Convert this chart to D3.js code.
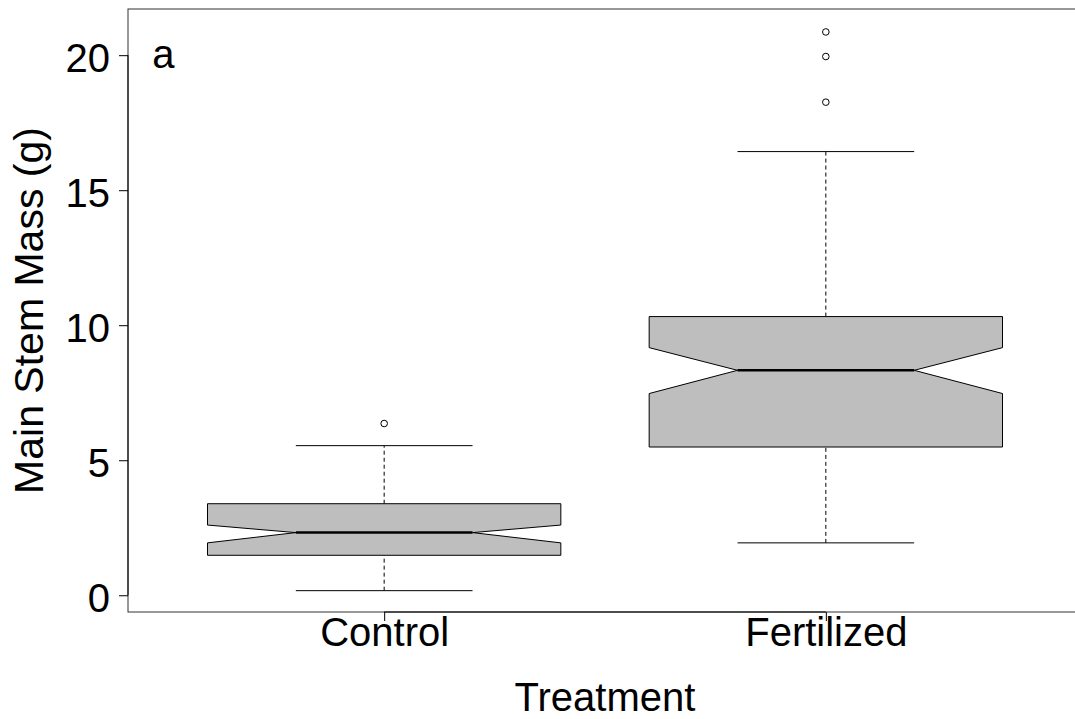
<!DOCTYPE html>
<html>
<head>
<meta charset="utf-8">
<script src="https://cdn.jsdelivr.net/npm/d3@7"></script>
<style>
  html, body { margin: 0; padding: 0; background: #fff; }
  svg { display: block; font-family: "Liberation Sans", Arial, sans-serif; }
</style>
</head>
<body>
<svg id="chart" width="1075" height="719"></svg>
<script>
const categories = ["Control", "Fertilized"];
const lowerWhisker = [0.17, 1.94];
const q1 = [1.48, 5.49];
const notchLo = [1.94, 7.47];
const median = [2.32, 8.33];
const notchHi = [2.60, 9.17];
const q3 = [3.39, 10.32];
const upperWhisker = [5.54, 16.43];
const outliers = [[6.36], [18.26, 19.95, 20.86]];
const yTicks = [0, 5, 10, 15, 20];
const yLabel = "Main Stem Mass (g)";
const xLabel = "Treatment";
const panelLabel = "a";

const svg = d3.select("#chart");
const x = d3.scaleLinear().domain([0.42, 2.58]).range([128, 1082]);
const y = d3.scaleLinear().domain([-0.62, 21.71]).range([612, 9]);

const boxHalf = 0.4, notchHalf = 0.2, capHalf = 0.2;
const data = categories.map((c, i) => ({
  c, i: i + 1,
  lw: lowerWhisker[i], q1: q1[i], nlo: notchLo[i], med: median[i],
  nhi: notchHi[i], q3: q3[i], uw: upperWhisker[i], out: outliers[i]
}));

const g = svg.append("g");

// whiskers (dashed)
g.selectAll(".whisk").data(data.flatMap(d => [[d, d.lw, d.q1], [d, d.q3, d.uw]]))
  .enter().append("line")
  .attr("x1", d => x(d[0].i)).attr("x2", d => x(d[0].i))
  .attr("y1", d => y(d[1])).attr("y2", d => y(d[2]))
  .attr("stroke", "#000").attr("stroke-width", 1).attr("stroke-dasharray", "4,3");

// caps
g.selectAll(".cap").data(data.flatMap(d => [[d, d.lw], [d, d.uw]]))
  .enter().append("line")
  .attr("x1", d => x(d[0].i - capHalf)).attr("x2", d => x(d[0].i + capHalf))
  .attr("y1", d => y(d[1])).attr("y2", d => y(d[1]))
  .attr("stroke", "#000").attr("stroke-width", 1);

// notched boxes
g.selectAll(".box").data(data).enter().append("path")
  .attr("d", d => {
    const pts = [
      [d.i - boxHalf, d.q1], [d.i - boxHalf, d.nlo], [d.i - notchHalf, d.med],
      [d.i - boxHalf, d.nhi], [d.i - boxHalf, d.q3], [d.i + boxHalf, d.q3],
      [d.i + boxHalf, d.nhi], [d.i + notchHalf, d.med], [d.i + boxHalf, d.nlo],
      [d.i + boxHalf, d.q1]
    ];
    return d3.line().x(p => x(p[0])).y(p => y(p[1]))(pts) + "Z";
  })
  .attr("fill", "#bebebe").attr("stroke", "#000").attr("stroke-width", 1);

// medians
g.selectAll(".med").data(data).enter().append("line")
  .attr("x1", d => x(d.i - notchHalf)).attr("x2", d => x(d.i + notchHalf))
  .attr("y1", d => y(d.med)).attr("y2", d => y(d.med))
  .attr("stroke", "#000").attr("stroke-width", 2.5);

// outliers
g.selectAll(".out").data(data.flatMap(d => d.out.map(v => [d.i, v])))
  .enter().append("circle")
  .attr("cx", d => x(d[0])).attr("cy", d => y(d[1])).attr("r", 3.3)
  .attr("fill", "#fff").attr("stroke", "#000").attr("stroke-width", 1);

// plot frame
svg.append("rect")
  .attr("x", x.range()[0]).attr("y", y.range()[1])
  .attr("width", x.range()[1] - x.range()[0]).attr("height", y.range()[0] - y.range()[1])
  .attr("fill", "none").attr("stroke", "#333").attr("stroke-width", 1);

// y axis
const yAxis = d3.axisLeft(y).tickValues(yTicks).tickSize(9).tickPadding(9).tickFormat(d3.format("d"));
const ya = svg.append("g").attr("transform", `translate(${x.range()[0]},0)`).call(yAxis);
ya.select(".domain").attr("d", `M0,${y(0)}V${y(20)}`).attr("stroke", "#000");
ya.selectAll(".tick line").attr("stroke", "#000");
ya.selectAll(".tick text").attr("font-size", 40).attr("fill", "#000")
  .attr("font-family", "'Liberation Sans', Arial, sans-serif").attr("dy", "0.4em");

// x axis
const xAxis = d3.axisBottom(x).tickValues([1, 2]).tickSize(9).tickPadding(0)
  .tickFormat(d => categories[d - 1]);
const xa = svg.append("g").attr("transform", `translate(0,${y.range()[0]})`).call(xAxis);
xa.select(".domain").attr("d", `M${x(1)},0H${x(2)}`).attr("stroke", "#000");
xa.selectAll(".tick line").attr("stroke", "#000");
xa.selectAll(".tick text").attr("font-size", 40).attr("fill", "#000")
  .attr("font-family", "'Liberation Sans', Arial, sans-serif")
  .attr("dy", null).attr("y", 34);

// axis titles
svg.append("text")
  .attr("x", (x.range()[0] + x.range()[1]) / 2).attr("y", 711)
  .attr("text-anchor", "middle").attr("font-size", 40).attr("fill", "#000")
  .text(xLabel);
svg.append("text")
  .attr("transform", `translate(43,${(y.range()[0] + y.range()[1]) / 2}) rotate(-90)`)
  .attr("text-anchor", "middle").attr("font-size", 41).attr("fill", "#000")
  .text(yLabel);

// panel label
svg.append("text")
  .attr("x", x(0.5)).attr("y", 68)
  .attr("text-anchor", "middle").attr("font-size", 40).attr("fill", "#000")
  .text(panelLabel);
</script>
</body>
</html>
